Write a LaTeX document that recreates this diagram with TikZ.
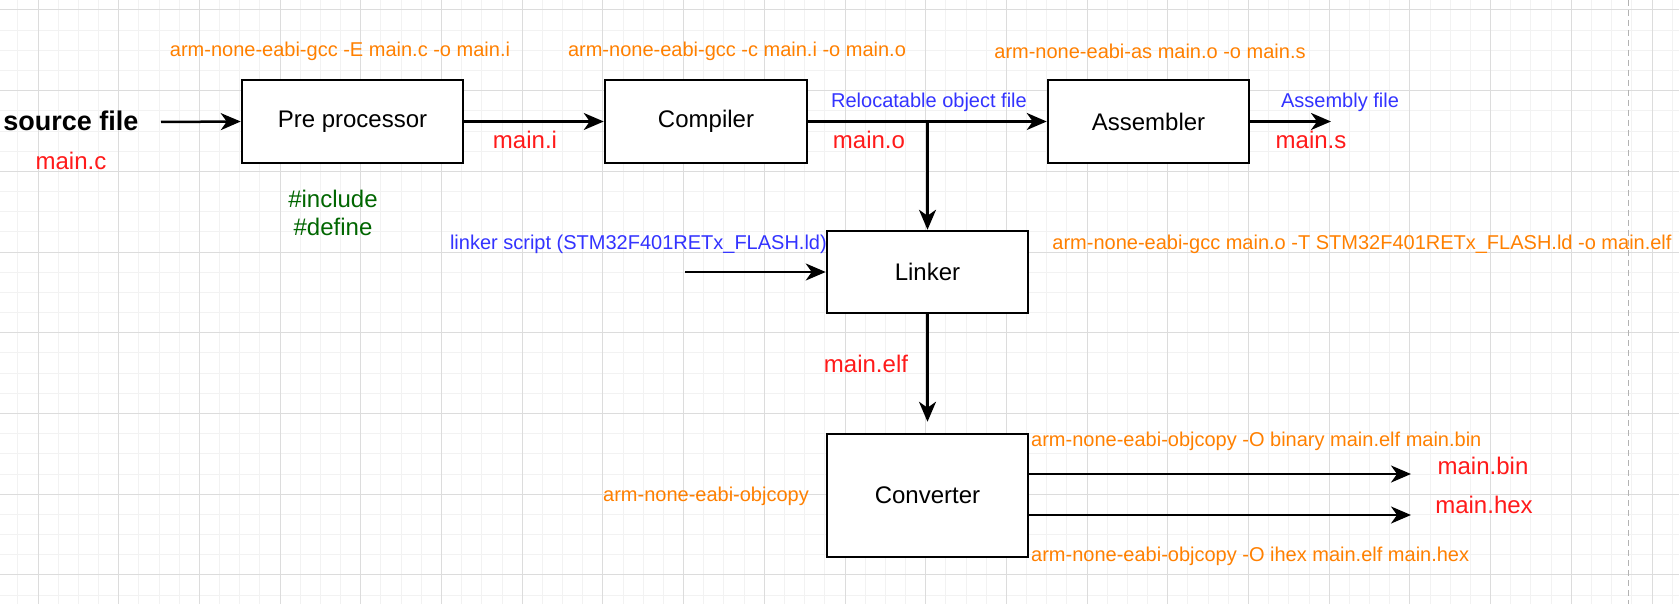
\documentclass[tikz,border=0pt]{standalone}
\usepackage{fontspec}
\setmainfont{Liberation Sans}
\usetikzlibrary{arrows.meta}
\definecolor{cmdorange}{HTML}{FF8000}
\definecolor{filered}{HTML}{FF1A1A}
\definecolor{noteblue}{HTML}{3333FF}
\definecolor{macgreen}{HTML}{006600}
\definecolor{gridmajor}{HTML}{DCDCDC}
\definecolor{gridminor}{HTML}{F2F2F2}
\tikzset{
  stage/.style={draw=black, line width=2.5pt, fill=white, inner sep=0pt,
    font=\fontsize{24}{28}\selectfont},
  cmdtxt/.style={text=cmdorange, inner sep=0pt, font=\fontsize{20}{24}\selectfont},
  filetxt/.style={text=filered, inner sep=0pt, font=\fontsize{24}{28}\selectfont},
  notetxt/.style={text=noteblue, inner sep=0pt, font=\fontsize{20}{24}\selectfont},
  mactxt/.style={text=macgreen, inner sep=0pt, font=\fontsize{24}{28}\selectfont},
  arr/.style={line width=2.5pt, -{Stealth[length=20pt,width=17pt,inset=6pt]}},
  gminor/.style={gridminor, line width=1pt},
  gmajor/.style={gridmajor, line width=1pt},
}
\begin{document}
\begin{tikzpicture}[x=1pt,y=-1pt]
\useasboundingbox (0,0) rectangle (1679,604);
\fill[white] (0,0) rectangle (1679,604);
% grid
\foreach \i in {-2,...,82} { \draw[gminor] ({38+\i*20.175},0) -- ++(0,604); }
\foreach \i in {-1,...,30} { \draw[gminor] (0,{10+\i*20.175}) -- ++(1679,0); }
\foreach \i in {0,...,20} { \draw[gmajor] ({38+\i*80.7},0) -- ++(0,604); }
\foreach \i in {0,...,7} { \draw[gmajor] (0,{10+\i*80.7}) -- ++(1679,0); }
\draw[gray!60, line width=1pt, dash pattern=on 6pt off 4pt] (1628,0) -- (1628,604);

% stage boxes
\node[stage, minimum width=221pt, minimum height=83pt] (pre) at (352.5,121.5) {Pre processor};
\node[stage, minimum width=202pt, minimum height=83pt] (comp) at (706,121.5) {Compiler};
\node[stage, minimum width=201pt, minimum height=83pt] (asm) at (1148.5,121.5) {Assembler};
\node[stage, minimum width=201pt, minimum height=82pt] (link) at (927.5,272) {Linker};
\node[stage, minimum width=201pt, minimum height=123pt] (conv) at (927.5,495.5) {Converter};

% texts
\node[inner sep=0pt, font=\fontsize{27}{32}\selectfont\bfseries] (src) at (71,121) {source file};
\node[filetxt] (mainc) at (71,161) {main.c};
\node[cmdtxt] (cmdpre) at (340,51) {arm-none-eabi-gcc -E main.c -o main.i};
\node[mactxt] (inc) at (333,199) {\#include};
\node[mactxt] (def) at (333,227) {\#define};
\node[filetxt] (maini) at (525,140) {main.i};
\node[cmdtxt] (cmdcomp) at (737,51) {arm-none-eabi-gcc -c main.i -o main.o};
\node[notetxt] (reloc) at (929,102) {Relocatable object file};
\node[filetxt] (maino) at (869,140) {main.o};
\node[cmdtxt] (cmdasm) at (1150,51) {arm-none-eabi-as main.o -o main.s};
\node[notetxt] (asmf) at (1340,102) {Assembly file};
\node[filetxt] (mains) at (1311,140) {main.s};
\node[notetxt, anchor=east] (lscript) at (827,244) {linker script (STM32F401RETx\_FLASH.ld)};
\node[cmdtxt] (cmdlink) at (1362,244) {arm-none-eabi-gcc main.o -T STM32F401RETx\_FLASH.ld -o main.elf};
\node[filetxt] (mainelf) at (866,364) {main.elf};
\node[cmdtxt] (objcopy) at (706,496) {arm-none-eabi-objcopy};
\node[cmdtxt, anchor=west] (cmdbin) at (1031,441) {arm-none-eabi-objcopy -O binary main.elf main.bin};
\node[cmdtxt, anchor=west] (cmdhex) at (1031,556) {arm-none-eabi-objcopy -O ihex main.elf main.hex};
\node[filetxt] (mainbin) at (1483,466) {main.bin};
\node[filetxt] (mainhex) at (1484,505) {main.hex};

% connectors
\coordinate (srcout) at (161,122);
\coordinate (asmout) at (1331,121.5);
\coordinate (lsin) at (685,272);
\coordinate (binend) at (1411,474);
\coordinate (hexend) at (1411,515);
\coordinate (branch) at (comp.east -| link.north);
\draw[arr] (srcout) -- (pre.west);
\draw[arr] (pre) -- (comp);
\draw[arr] (comp) -- (asm);
\draw[arr] (branch) -- (link.north);
\draw[arr] (asm.east) -- (asmout);
\draw[arr] (lsin) -- (link.west);
\draw[arr, shorten >=11pt] (link.south) -- (conv.north);
\draw[arr] (conv.east |- binend) -- (binend);
\draw[arr] (conv.east |- hexend) -- (hexend);
\end{tikzpicture}
\end{document}
